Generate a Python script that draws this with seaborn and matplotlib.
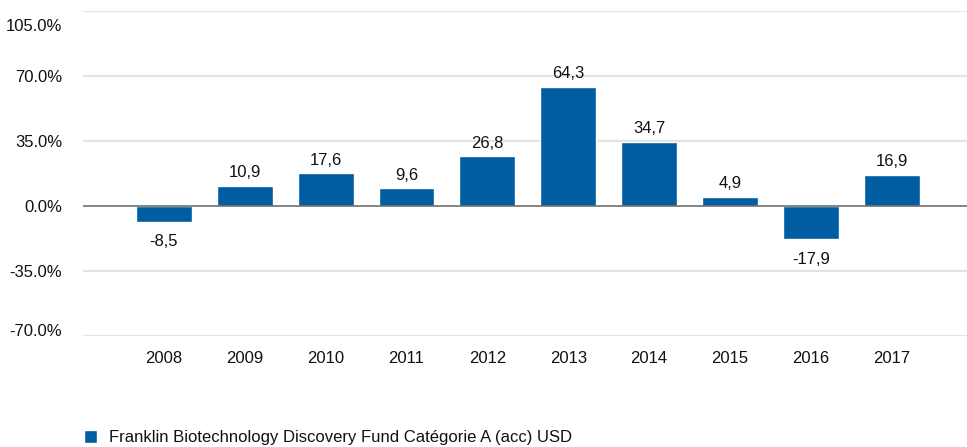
import matplotlib
matplotlib.use("Agg")
import matplotlib.pyplot as plt
import matplotlib.transforms as mtrans
import seaborn as sns
import pandas as pd

years = ["2008", "2009", "2010", "2011", "2012", "2013", "2014", "2015", "2016", "2017"]
returns = [-8.5, 10.9, 17.6, 9.6, 26.8, 64.3, 34.7, 4.9, -17.9, 16.9]
yticks = [-70, -35, 0, 35, 70, 105]
series_name = "Franklin Biotechnology Discovery Fund Catégorie A (acc) USD"

sns.set_theme(style="white")
plt.rcParams['font.family'] = ['Liberation Sans Narrow', 'Liberation Sans', 'DejaVu Sans']

BLUE = "#005da2"
FS = 12
df = pd.DataFrame({"year": years, "ret": returns})

fig = plt.figure(figsize=(9.67, 4.47), dpi=100)
ax = fig.add_axes([83/967, 1 - 336/447, (967 - 83)/967 + 0.01, (336 - 11)/447])

sns.barplot(data=df, x="year", y="ret", color=BLUE, width=0.69, saturation=1,
            ax=ax, zorder=3, label=series_name)

ax.set_ylim(-70, 105)
ax.set_xlim(-1.0, 9.93 + 0.01 * 967 / 80.9)
ax.set_yticks(yticks)
ax.set_yticklabels([f"{v:.1f}%" for v in yticks])
for y in yticks:
    if y == 0:
        continue
    ax.axhline(y, color="#e3e3e3", lw=1.5, zorder=1)
ax.axhline(0, color="#707070", lw=1.2, zorder=4)

for s in ax.spines.values():
    s.set_visible(False)
ax.tick_params(axis="both", length=0, labelsize=FS, colors="#111111")
ax.tick_params(axis="y", pad=15)
ax.tick_params(axis="x", pad=11)
ax.set_xlabel("")
ax.set_ylabel("")

# extreme y labels are nudged inward as in the reference
ylabs = ax.get_yticklabels()
ylabs[-1].set_transform(ylabs[-1].get_transform() + mtrans.ScaledTranslation(0, -14/100, fig.dpi_scale_trans))
ylabs[0].set_transform(ylabs[0].get_transform() + mtrans.ScaledTranslation(0, 6/100, fig.dpi_scale_trans))

for bars in ax.containers:
    labels = [f"{v:.1f}".replace(".", ",") for v in returns]
    for rect, lab, v in zip(bars, labels, returns):
        cx = rect.get_x() + rect.get_width() / 2
        if v >= 0:
            ax.annotate(lab, (cx, v), xytext=(0, 4), textcoords="offset points",
                        ha="center", va="bottom", fontsize=FS, color="#111111")
        else:
            ax.annotate(lab, (cx, v), xytext=(0, -9), textcoords="offset points",
                        ha="center", va="top", fontsize=FS, color="#111111")

leg = ax.legend(loc="lower left", bbox_to_anchor=(77/967, -5/447), bbox_transform=fig.transFigure,
                frameon=False, fontsize=FS, handlelength=0.8, handleheight=0.8,
                handletextpad=0.7, borderaxespad=0)
for t in leg.get_texts():
    t.set_color("#111111")

fig.savefig("out.png", dpi=100)
